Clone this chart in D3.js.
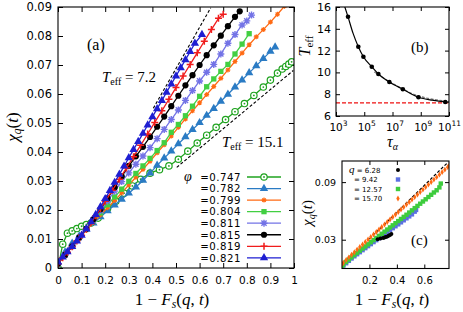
<!DOCTYPE html>
<html>
<head>
<meta charset="utf-8">
<script src="https://cdn.jsdelivr.net/npm/d3@7"></script>
<style>
  body { margin: 0; background: #fff; }
  svg { display: block; }
</style>
</head>
<body>
<svg id="fig" width="463" height="312"></svg>
<script>
// ---- panel (a) data: chi_q vs 1 - Fs, one series per packing fraction ----
const phiLabels = ["=0.747", "=0.782", "=0.799", "=0.804", "=0.811", "=0.815", "=0.819", "=0.821"];

const x747 = [0, .02, .04, .06, .08, .10, .12, .14, .17, .21, .245, .28, .315, .35, .39, .43, .47, .51, .55, .59, .63, .67, .71, .75, .79, .83, .87, .90, .93, .95, .965, .978, .99];
const y747 = [0, .0082, .012, .0128, .0136, .0144, .015, .0155, .0172, .0205, .023, .0258, .0283, .0306, .0327, .0339, .0352, .0375, .0403, .0431, .0458, .0485, .0512, .0539, .0567, .0595, .0624, .0648, .0672, .0686, .0695, .0703, .0711];

const x782 = [0, .03, .06, .09, .12, .15, .18, .21, .24, .27, .30, .33, .36, .39, .42, .45, .48, .51, .54, .57, .60, .63, .66, .69, .72, .75, .78, .81, .84, .87, .90, .92];
const y782 = [.002, .0055, .0085, .011, .0133, .0155, .0176, .0197, .0217, .0237, .0258, .0279, .0302, .0327, .0354, .0379, .0403, .0428, .0452, .0477, .0501, .0526, .055, .0575, .0599, .0624, .0648, .0673, .0697, .0722, .0747, .0762];

const x799 = [0, .03, .06, .09, .12, .15, .18, .21, .24, .27, .30, .33, .36, .39, .42, .45, .48, .51, .54, .57, .60, .63, .66, .69, .72, .75, .78, .81, .84, .87, .90, .93, .96];
const y799 = [.0015, .0045, .0074, .0102, .013, .0157, .0183, .0208, .0233, .0259, .0286, .0313, .034, .0368, .0397, .0425, .0455, .0485, .0514, .0542, .057, .0598, .0626, .0654, .0683, .0712, .0741, .077, .0797, .0822, .0848, .0875, .0903];

const x804 = [0, .03, .06, .09, .12, .15, .18, .21, .24, .27, .30, .33, .36, .39, .42, .45, .48, .51, .54, .57, .60, .63, .66, .69, .72, .75, .78, .81];
const y804 = [.0015, .0045, .0075, .0105, .0133, .0162, .019, .0218, .0245, .0272, .0299, .0326, .0352, .0378, .0405, .0432, .0468, .0495, .0525, .0558, .0592, .0625, .0652, .0678, .0702, .0738, .0772, .0808];

const x811 = [0, .03, .06, .09, .12, .15, .18, .21, .24, .27, .30, .33, .36, .39, .42, .45, .48, .51, .54, .57, .60, .63, .66, .69, .72, .75, .78, .80, .82];
const y811 = [.0015, .0045, .0075, .0105, .0135, .0166, .0198, .0231, .0265, .0298, .0328, .0358, .0386, .0415, .0446, .0478, .0512, .0545, .0578, .0612, .0645, .0675, .0702, .0738, .0775, .0805, .0838, .0852, .0872];

const x815 = [0, .03, .06, .09, .12, .15, .18, .21, .24, .27, .30, .33, .36, .39, .42, .45, .48, .51, .54, .57, .60, .63, .66, .69, .72, .75, .77];
const y815 = [.0015, .0045, .0075, .0105, .0135, .0168, .0203, .024, .0278, .0316, .0352, .0385, .0418, .0452, .0487, .0522, .0558, .0594, .063, .0665, .07, .0734, .0768, .0801, .0834, .0866, .0885];

const x819 = [0, .02, .04, .06, .08, .10, .12, .14, .16, .18, .20, .23, .26, .29, .32, .35, .38, .41, .44, .47, .50, .53, .56, .59, .62, .65, .68, .70];
const y819 = [.0015, .0035, .0054, .0073, .0093, .0113, .0134, .0156, .018, .0205, .023, .0268, .0306, .0345, .0384, .0423, .0462, .0502, .0542, .0582, .0622, .0662, .0702, .0742, .0782, .0822, .0861, .0875];

const x821 = [0, .02, .04, .06, .08, .10, .12, .14, .16, .18, .20, .22, .24, .26, .28, .30, .32, .34, .36, .38, .40, .42, .44, .46, .48, .50, .52, .54, .56, .58, .61];
const y821 = [.002, .0038, .0056, .0074, .0093, .0113, .0135, .0159, .0184, .0211, .0239, .0267, .0295, .0323, .0351, .038, .0408, .0436, .0464, .0493, .0521, .0549, .0577, .0606, .0634, .0662, .069, .0718, .0746, .0775, .0805];

// dashed guide lines (slope for Teff)
const guide72 = [[0.404, 0.0551], [0.647, 0.0897]];
const guide151 = [[0.503, 0.0347], [0.997, 0.0681]];

const xTicksA = [0, 0.1, 0.2, 0.3, 0.4, 0.5, 0.6, 0.7, 0.8, 0.9, 1];
const yTicksA = [0, 0.01, 0.02, 0.03, 0.04, 0.05, 0.06, 0.07, 0.08, 0.09];

// ---- panel (b) data: Teff vs tau_alpha ----
const tauB = [7.1e3, 3.8e4, 8.7e4, 3.4e5, 1.0e6, 6.0e6, 5.4e7, 6.9e8, 5.4e10];
const teffB = [15.1, 12.36, 11.44, 10.52, 9.85, 9.12, 8.45, 7.72, 7.28];
const fitTau = [3.0e3, 7.1e3, 1.6e4, 3.8e4, 8.7e4, 3.4e5, 1.0e6, 6.0e6, 5.4e7, 6.9e8, 6.3e9, 5.4e10, 1e11];
const fitTeff = [16.6, 15.1, 13.6, 12.36, 11.44, 10.52, 9.85, 9.12, 8.45, 7.72, 7.45, 7.3, 7.28];
const altTau = [5.0e5, 3.2e6, 3.2e7, 3.2e8, 3.2e9, 3.2e10, 1e11];
const altTeff = [10.05, 9.38, 8.64, 8.0, 7.62, 7.42, 7.36];
const teffLimit = 7.2;
const xTicksB = [1e3, 1e5, 1e7, 1e9, 1e11];
const yTicksB = [6, 8, 10, 12, 14, 16];

// ---- panel (c) data: chi_q vs 1 - Fs for several q ----
const qLabels = ["= 6.28", "= 9.42", "= 12.57", "= 15.70"];
const xq628 = [.26, .28, .30, .31, .32, .33, .34, .35, .36];
const yq628 = [.0305, .0312, .0318, .0322, .0327, .0333, .034, .0349, .036];
const xq942 = [0, .01, .03, .05, .07, .09, .11, .13, .15, .17, .19, .21, .23, .25, .27, .29, .31, .33, .35, .37, .39, .41, .43, .45, .47, .49, .51, .53, .54];
const yq942 = [.0017, .003, .0055, .008, .0104, .0127, .0149, .017, .0191, .0212, .0233, .0254, .0275, .0295, .0316, .0336, .0357, .0378, .0399, .042, .044, .046, .0481, .0502, .0523, .0543, .0564, .0592, .061];
const xq1257 = [0, .01, .03, .05, .07, .09, .11, .13, .15, .17, .19, .21, .23, .25, .27, .29, .31, .33, .35, .37, .39, .41, .43, .45, .47, .49, .51, .53, .55, .57, .59, .61, .63, .65, .67, .69, .71, .72];
const yq1257 = [.0025, .0042, .0068, .0093, .0117, .014, .0163, .0186, .0208, .023, .0252, .0274, .0296, .0318, .034, .0362, .0384, .0406, .0428, .045, .0472, .0494, .0516, .0538, .056, .0583, .0606, .0629, .0652, .0675, .0698, .0721, .0745, .0768, .0792, .0815, .0845, .0885];
const xq1570 = [0, .01, .03, .05, .07, .09, .11, .13, .15, .17, .19, .21, .23, .25, .27, .29, .31, .33, .35, .37, .39, .41, .43, .45, .47, .49, .51, .53, .55, .57, .59, .61, .63, .65, .67, .69, .71, .73, .75, .77, .78];
const yq1570 = [.0045, .006, .0088, .0116, .0143, .017, .0197, .0224, .025, .0276, .0302, .0328, .0354, .038, .0406, .0432, .0458, .0484, .051, .0536, .0562, .0588, .0614, .064, .0666, .0692, .0718, .0744, .077, .0796, .0822, .0848, .0874, .09, .0926, .0952, .0978, .1004, .103, .1056, .107];
const guideC = [[0.2, 0.0307], [0.775, 0.111]];
const xTicksC = [0.2, 0.4, 0.6];
const yTicksC = [0.03, 0.09];

const sans = "'DejaVu Sans', sans-serif";
const serif = "'Liberation Serif', 'DejaVu Serif', serif";

const svg = d3.select('#fig');
const defs = svg.append('defs');

// marker painters
function drawMarker(g, kind, color, x, y) {
  if (kind === 'odot') {
    g.append('circle').attr('cx', x).attr('cy', y).attr('r', 3.2)
      .attr('fill', '#fff').attr('stroke', color).attr('stroke-width', 1.2);
    g.append('circle').attr('cx', x).attr('cy', y).attr('r', 0.9).attr('fill', color);
  } else if (kind === 'tri') {
    g.append('path').attr('d', d3.symbol(d3.symbolTriangle, 30)())
      .attr('transform', `translate(${x},${y})`).attr('fill', color);
  } else if (kind === 'sq') {
    g.append('path').attr('d', d3.symbol(d3.symbolSquare, 28)())
      .attr('transform', `translate(${x},${y})`).attr('fill', color);
  } else if (kind === 'dot') {
    g.append('circle').attr('cx', x).attr('cy', y).attr('r', 3.1).attr('fill', color);
  } else if (kind === 'plus') {
    g.append('path').attr('d', `M${x - 3.5},${y}h7M${x},${y - 3.5}v7`)
      .attr('stroke', color).attr('stroke-width', 1.5);
  } else if (kind === 'star') {
    g.append('path').attr('d', `M${x - 3.5},${y}h7M${x},${y - 3.5}v7M${x - 2.6},${y - 2.6}l5.2,5.2M${x - 2.6},${y + 2.6}l5.2,-5.2`)
      .attr('stroke', color).attr('stroke-width', 1.4);
  } else if (kind === 'ostar') {
    g.append('path').attr('d', `M${x - 2.5},${y}h5M${x},${y - 2.5}v5M${x - 1.8},${y - 1.8}l3.6,3.6M${x - 1.8},${y + 1.8}l3.6,-3.6`)
      .attr('stroke', color).attr('stroke-width', 1.1);
    g.append('circle').attr('cx', x).attr('cy', y).attr('r', 1.3).attr('fill', color);
  }
}

function styleAxis(sel, size) {
  sel.select('.domain').remove();
  sel.selectAll('line').attr('stroke', '#000').attr('stroke-width', 1);
  sel.selectAll('text').attr('font-family', sans).attr('font-size', size).attr('fill', '#000');
}

function frameBox(g, x0, y0, x1, y1) {
  g.append('rect').attr('x', x0).attr('y', y0).attr('width', x1 - x0).attr('height', y1 - y0)
    .attr('fill', 'none').attr('stroke', '#000').attr('stroke-width', 1.1);
}

function clipRect(id, x0, y0, x1, y1) {
  defs.append('clipPath').attr('id', id).append('rect')
    .attr('x', x0).attr('y', y0).attr('width', x1 - x0).attr('height', y1 - y0);
}

// ================= panel (a) =================
const xA = d3.scaleLinear().domain([0, 1]).range([58, 294]);
const yA = d3.scaleLinear().domain([0, 0.09]).range([268, 7]);
clipRect('clipA', 58, 7, 294, 268);

const gA = svg.append('g');
gA.append('g').attr('transform', 'translate(0,268)')
  .call(d3.axisBottom(xA).tickValues(xTicksA).tickSize(-5).tickPadding(9).tickFormat(d => String(d)))
  .call(s => styleAxis(s, 10.5));
gA.append('g').attr('transform', 'translate(0,7)')
  .call(d3.axisTop(xA).tickValues(xTicksA).tickSize(-5).tickFormat(''))
  .call(s => styleAxis(s, 10));
gA.append('g').attr('transform', 'translate(58,0)')
  .call(d3.axisLeft(yA).tickValues(yTicksA).tickSize(-5).tickPadding(6).tickFormat(d => String(d)))
  .call(s => styleAxis(s, 11.5));
gA.append('g').attr('transform', 'translate(294,0)')
  .call(d3.axisRight(yA).tickValues(yTicksA).tickSize(-5).tickFormat(''))
  .call(s => styleAxis(s, 10));

const seriesA = [
  { x: x747, y: y747, color: '#1fa31f', mark: 'odot', label: phiLabels[0] },
  { x: x782, y: y782, color: '#2a7bc4', mark: 'tri', label: phiLabels[1] },
  { x: x799, y: y799, color: '#ff6a13', mark: 'ostar', label: phiLabels[2] },
  { x: x804, y: y804, color: '#42cf42', mark: 'sq', label: phiLabels[3] },
  { x: x811, y: y811, color: '#7373e6', mark: 'star', label: phiLabels[4] },
  { x: x815, y: y815, color: '#000000', mark: 'dot', label: phiLabels[5] },
  { x: x819, y: y819, color: '#f01c1c', mark: 'plus', label: phiLabels[6] },
  { x: x821, y: y821, color: '#1e1ed2', mark: 'tri', label: phiLabels[7] }
];

const plotA = gA.append('g').attr('clip-path', 'url(#clipA)');
const lineA = d3.line().x(d => xA(d[0])).y(d => yA(d[1]));

plotA.append('path').attr('d', lineA(guide72)).attr('fill', 'none')
  .attr('stroke', '#000').attr('stroke-width', 1.1).attr('stroke-dasharray', '3,2');
plotA.append('path').attr('d', lineA(guide151)).attr('fill', 'none')
  .attr('stroke', '#000').attr('stroke-width', 1.1).attr('stroke-dasharray', '3,2');

seriesA.forEach(s => {
  const pts = s.x.map((v, i) => [v, s.y[i]]);
  plotA.append('path').attr('d', lineA(pts)).attr('fill', 'none')
    .attr('stroke', s.color).attr('stroke-width', 1.3);
  pts.forEach(p => drawMarker(plotA, s.mark, s.color, xA(p[0]), yA(p[1])));
});

frameBox(gA, 58, 7, 294, 268);

// legend (a)
gA.append('text').attr('x', 184).attr('y', 181).attr('font-family', serif)
  .attr('font-style', 'italic').attr('font-size', 14).text('\u03c6');
seriesA.forEach((s, i) => {
  const ly = 177 + i * 11.55;
  gA.append('text').attr('x', 241).attr('y', ly + 3.8).attr('text-anchor', 'end')
    .attr('font-family', sans).attr('font-size', 10.2).attr('letter-spacing', 0.5).text(s.label);
  gA.append('line').attr('x1', 247).attr('x2', 281).attr('y1', ly).attr('y2', ly)
    .attr('stroke', s.color).attr('stroke-width', 1.3);
  drawMarker(gA, s.mark, s.color, 264, ly);
});

// annotations (a)
gA.append('text').attr('x', 87).attr('y', 50).attr('font-family', serif).attr('font-size', 16).text('(a)');

function teffLabel(g, x, y, val) {
  const t = g.append('text').attr('x', x).attr('y', y).attr('font-family', serif).attr('font-size', 15);
  t.append('tspan').attr('font-style', 'italic').text('T');
  t.append('tspan').attr('font-size', 10).attr('dy', 3).text('eff');
  t.append('tspan').attr('dy', -3).text(' = ' + val);
}
teffLabel(gA, 102, 82, '7.2');
teffLabel(gA, 222, 147, '15.1');

function fsLabel(g, cx, y, size) {
  const t = g.append('text').attr('x', cx).attr('y', y).attr('text-anchor', 'middle')
    .attr('font-family', serif).attr('font-size', size);
  t.append('tspan').text('1 \u2212 ');
  t.append('tspan').attr('font-style', 'italic').text('F');
  t.append('tspan').attr('font-style', 'italic').attr('font-size', size * 0.68).attr('dy', 3).text('s');
  t.append('tspan').attr('dy', -3).text('(');
  t.append('tspan').attr('font-style', 'italic').text('q');
  t.append('tspan').text(', ');
  t.append('tspan').attr('font-style', 'italic').text('t');
  t.append('tspan').text(')');
}
fsLabel(gA, 172, 305, 17);

function chiLabel(g, cx, cy, size) {
  const t = g.append('text').attr('transform', `translate(${cx},${cy}) rotate(-90)`)
    .attr('text-anchor', 'middle').attr('font-family', serif).attr('font-size', size);
  t.append('tspan').attr('font-style', 'italic').text('\u03c7');
  t.append('tspan').attr('font-style', 'italic').attr('font-size', size * 0.68).attr('dy', 3).text('q');
  t.append('tspan').attr('dy', -3).text('(');
  t.append('tspan').attr('font-style', 'italic').text('t');
  t.append('tspan').text(')');
}
chiLabel(gA, 18, 127, 17);

// ================= panel (b) =================
const xB = d3.scaleLog().domain([1e3, 1e11]).range([336, 449]);
const yB = d3.scaleLinear().domain([6, 16]).range([116, 7]);
clipRect('clipB', 336, 7, 449, 116);
const gB = svg.append('g');

gB.append('g').attr('transform', 'translate(0,116)')
  .call(d3.axisBottom(xB).tickValues(xTicksB).tickSize(-4).tickPadding(8).tickFormat(() => ''))
  .call(s => styleAxis(s, 10.5))
  .call(s => s.selectAll('.tick text').each(function (d) {
    const t = d3.select(this);
    t.append('tspan').text('10');
    t.append('tspan').attr('dy', -5).attr('font-size', 7.5).text(Math.round(Math.log10(d)));
    t.attr('dx', d === 1e11 ? 0 : 2);
  }));
gB.append('g').attr('transform', 'translate(0,7)')
  .call(d3.axisTop(xB).tickValues(xTicksB).tickSize(-4).tickFormat(''))
  .call(s => styleAxis(s, 10));
gB.append('g').attr('transform', 'translate(336,0)')
  .call(d3.axisLeft(yB).tickValues(yTicksB).tickSize(-4).tickPadding(5))
  .call(s => styleAxis(s, 11));
gB.append('g').attr('transform', 'translate(449,0)')
  .call(d3.axisRight(yB).tickValues(yTicksB).tickSize(-4).tickFormat(''))
  .call(s => styleAxis(s, 10));

const plotB = gB.append('g').attr('clip-path', 'url(#clipB)');
const lineB = d3.line().curve(d3.curveMonotoneX).x(d => xB(d[0])).y(d => yB(d[1]));
plotB.append('line').attr('x1', 336).attr('x2', 449).attr('y1', yB(teffLimit)).attr('y2', yB(teffLimit))
  .attr('stroke', '#ee1111').attr('stroke-width', 1.1).attr('stroke-dasharray', '4,2');
plotB.append('path').attr('d', lineB(altTau.map((v, i) => [v, altTeff[i]]))).attr('fill', 'none')
  .attr('stroke', '#777').attr('stroke-width', 1.1).attr('stroke-dasharray', '3,1.5');
plotB.append('path').attr('d', lineB(fitTau.map((v, i) => [v, fitTeff[i]]))).attr('fill', 'none')
  .attr('stroke', '#000').attr('stroke-width', 1.2);
tauB.forEach((v, i) => {
  plotB.append('circle').attr('cx', xB(v)).attr('cy', yB(teffB[i])).attr('r', 2.3).attr('fill', '#000');
});
frameBox(gB, 336, 7, 449, 116);

gB.append('text').attr('x', 411).attr('y', 52).attr('font-family', serif).attr('font-size', 15).text('(b)');
{
  const t = gB.append('text').attr('x', 387).attr('y', 147).attr('font-family', serif).attr('font-size', 16);
  t.append('tspan').attr('font-style', 'italic').text('\u03c4');
  t.append('tspan').attr('font-style', 'italic').attr('font-size', 10).attr('dy', 3).text('\u03b1');
}
{
  const t = gB.append('text').attr('transform', 'translate(310,46) rotate(-90)')
    .attr('text-anchor', 'middle').attr('font-family', serif).attr('font-size', 16);
  t.append('tspan').attr('font-style', 'italic').text('T');
  t.append('tspan').attr('font-size', 11).attr('dy', 3).text('eff');
}

// ================= panel (c) =================
const xC = d3.scaleLinear().domain([0, 0.78]).range([342, 449]);
const yC = d3.scaleLinear().domain([0, 0.112]).range([268.5, 161]);
clipRect('clipC', 342, 161, 449, 268.5);
const gC = svg.append('g');

gC.append('g').attr('transform', 'translate(0,268.5)')
  .call(d3.axisBottom(xC).tickValues(xTicksC).tickSize(-4).tickPadding(8).tickFormat(d => String(d)))
  .call(s => styleAxis(s, 10));
gC.append('g').attr('transform', 'translate(0,161)')
  .call(d3.axisTop(xC).tickValues(xTicksC).tickSize(-4).tickFormat(''))
  .call(s => styleAxis(s, 10));
gC.append('g').attr('transform', 'translate(342,0)')
  .call(d3.axisLeft(yC).tickValues(yTicksC).tickSize(-4).tickPadding(6).tickFormat(d => String(d)))
  .call(s => styleAxis(s, 9.5));
gC.append('g').attr('transform', 'translate(449,0)')
  .call(d3.axisRight(yC).tickValues(yTicksC).tickSize(-4).tickFormat(''))
  .call(s => styleAxis(s, 10));

const seriesC = [
  { x: xq628, y: yq628, color: '#000000', mark: 'c' },
  { x: xq942, y: yq942, color: '#5b6fe2', mark: 's' },
  { x: xq1257, y: yq1257, color: '#3dcc3d', mark: 's' },
  { x: xq1570, y: yq1570, color: '#ff6a13', mark: 'd' }
];
function drawSmall(g, kind, color, x, y) {
  if (kind === 'c') g.append('circle').attr('cx', x).attr('cy', y).attr('r', 2).attr('fill', color);
  else if (kind === 's') g.append('rect').attr('x', x - 2.2).attr('y', y - 2.2).attr('width', 4.4).attr('height', 4.4).attr('fill', color);
  else g.append('path').attr('d', d3.symbol(d3.symbolDiamond, 10)()).attr('transform', `translate(${x},${y})`).attr('fill', color);
}

const plotC = gC.append('g').attr('clip-path', 'url(#clipC)');
const lineC = d3.line().x(d => xC(d[0])).y(d => yC(d[1]));
plotC.append('path').attr('d', lineC(guideC)).attr('fill', 'none')
  .attr('stroke', '#000').attr('stroke-width', 1.2).attr('stroke-dasharray', '3,2');
[1, 2, 3, 0].forEach(k => {
  const s = seriesC[k];
  s.x.forEach((v, i) => drawSmall(plotC, s.mark, s.color, xC(v), yC(s.y[i])));
});
frameBox(gC, 342, 161, 449, 268.5);

// legend (c)
qLabels.forEach((lab, i) => {
  const ly = 170 + i * 9.5;
  const t = gC.append('text').attr('x', i === 0 ? 349 : 354).attr('y', ly + 2.5)
    .attr('font-family', sans).attr('font-size', 7);
  if (i === 0) {
    t.append('tspan').attr('font-family', serif).attr('font-style', 'italic').attr('font-size', 11).text('q');
    t.append('tspan').text(' ' + lab);
  } else {
    t.text(lab);
  }
  drawSmall(gC, seriesC[i].mark, seriesC[i].color, 398, ly);
});
gC.append('text').attr('x', 411).attr('y', 245).attr('font-family', serif).attr('font-size', 15).text('(c)');

fsLabel(gC, 392, 305, 17);
chiLabel(gC, 312, 213, 15);
</script>
</body>
</html>
